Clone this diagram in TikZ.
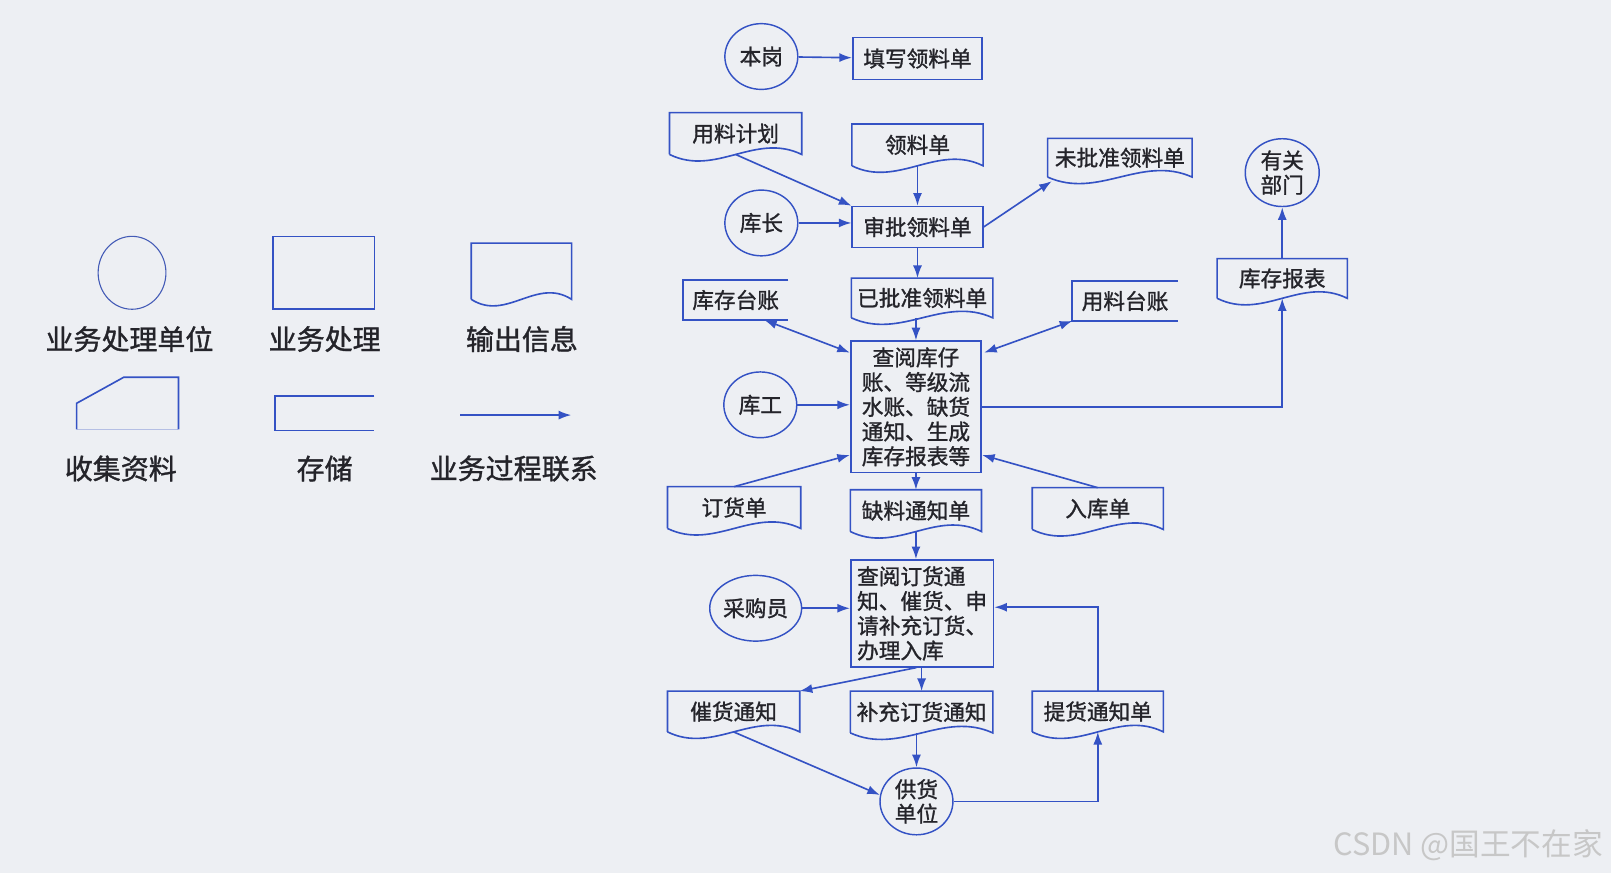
\documentclass[tikz,border=0pt]{standalone}
\usepackage{fontspec}
\setmainfont{Noto Sans CJK SC}[RawFeature={embolden=1.2}]
\newfontfamily\markfont{Noto Sans CJK SC}
\usetikzlibrary{shapes.geometric,arrows.meta,calc}

\definecolor{lnblue}{RGB}{52,82,196}
\definecolor{bgc}{RGB}{237,239,243}
\definecolor{txtc}{RGB}{36,36,42}

% document outline with a wavy bottom
\newcommand{\docshape}[1]{%
  \draw[ln] (#1.south west) -- (#1.north west) -- (#1.north east) -- (#1.south east)
    .. controls ($(#1.south west)!0.65!(#1.south east)+(0,-22)$) and ($(#1.south west)!0.35!(#1.south east)+(0,22)$) .. (#1.south west);}
% storage outline, open on the right
\newcommand{\storeshape}[1]{%
  \draw[ln] (#1.north east) -- (#1.north west) -- (#1.south west) -- (#1.south east);}

\begin{document}
\begin{tikzpicture}[x=0.02cm,y=-0.02cm,
    ln/.style={draw=lnblue,line width=0.9pt},
    arr/.style={draw=lnblue,line width=0.9pt,-{Latex[length=7pt,width=5pt]}},
    darr/.style={draw=lnblue,line width=0.9pt,{Latex[length=7pt,width=5pt]}-{Latex[length=7pt,width=5pt]}},
    unit/.style={ellipse,draw=lnblue,line width=0.8pt,inner sep=0pt,minimum width=1.42cm,minimum height=1.28cm,align=center,text=txtc,font=\fontsize{12}{13.5}\selectfont},
    proc/.style={rectangle,draw=lnblue,line width=0.9pt,inner sep=1pt,minimum width=2.54cm,minimum height=0.8cm,align=center,text=txtc,font=\fontsize{12}{13.7}\selectfont},
    doc/.style={rectangle,inner sep=1pt,minimum width=2.54cm,minimum height=0.8cm,text=txtc,font=\fontsize{12}{14}\selectfont},
    leg/.style={text=txtc,font=\fontsize{15.5}{18}\selectfont}]
\fill[bgc] (0,0) rectangle (1568,850);
\useasboundingbox (0,0) rectangle (1568,850);

% legend
\node[unit,minimum width=1.32cm,minimum height=1.42cm,line width=0.6pt,draw=lnblue!80!gray] (legUnit) at (128.5,265.5) {};
\node[leg] (legUnitTxt) at (126,330) {业务处理单位};
\node[proc,minimum width=1.98cm,minimum height=1.42cm] (legProc) at (315,265.5) {};
\node[leg] (legProcTxt) at (316,330) {业务处理};
\node[doc,minimum width=1.94cm,minimum height=1.08cm] (legOut) at (507.5,264) {};
\docshape{legOut}
\node[leg] (legOutTxt) at (508,330) {输出信息};
\draw[ln] (74.6,418) -- (74.6,392.5) -- (120.4,367.2) -- (173.7,367.2) -- (173.7,418);
\draw[ln,draw opacity=0.3] (74.6,418) -- (173.7,418);
\node[leg] (legColTxt) at (117.6,456) {收集资料};
\draw[ln] (364.4,385.3) -- (267.5,385.3) -- (267.5,419) -- (364.4,419);
\node[leg] (legStoreTxt) at (316,456) {存储};
\coordinate (legA) at (448,404);
\coordinate (legB) at (556,404);
\draw[arr] (legA) -- (legB);
\node[leg] (legArrTxt) at (500,456) {业务过程联系};

% units
\node[unit] (benGang) at (741,55) {本岗};
\node[unit] (kuZhang) at (741,217) {库长};
\node[unit] (kuGong) at (740,394) {库工};
\node[unit,minimum width=1.6cm] (caiGouYuan) at (735.5,592) {采购员};
\node[unit,minimum width=1.44cm,minimum height=1.32cm] (youGuan) at (1248,168) {有关\\部门};
\node[unit,minimum height=1.3cm] (gongHuo) at (892,780) {供货\\单位};

% processing
\node[proc,minimum width=2.52cm,minimum height=0.82cm] (tianXie) at (893,57) {填写领料单};
\node[proc] (shenPi) at (893,221) {审批领料单};
\node[proc,minimum height=2.56cm] (chaYue) at (891.5,396) {查阅库仔\\账、等级流\\水账、缺货\\通知、生成\\库存报表等};
\node[proc,align=left,minimum width=2.78cm,minimum height=2.08cm] (chaYueDingHuo) at (897.5,597) {查阅订货通\\知、催货、申\\请补充订货、\\办理入库};

% output documents
\node[doc,minimum width=2.56cm] (yongLiaoJiHua) at (716,130) {用料计划};
\node[doc] (lingLiaoDan) at (893,141) {领料单};
\node[doc,minimum width=2.8cm,minimum height=0.74cm] (weiPiZhun) at (1090,153.5) {未批准领料单};
\node[doc,minimum width=2.52cm,minimum height=0.76cm] (kuCunBaoBiao) at (1248,271) {库存报表};
\node[doc,minimum width=2.74cm,minimum height=0.76cm] (yiPiZhun) at (897.5,290) {已批准领料单};
\node[doc,minimum width=2.58cm] (dingHuoDan) at (714.5,494) {订货单};
\node[doc] (queLiao) at (891.5,497) {缺料通知单};
\node[doc] (ruKuDan) at (1068.5,495) {入库单};
\node[doc,minimum width=2.56cm,minimum height=0.78cm] (cuiHuo) at (714,692.5) {催货通知};
\node[doc,minimum width=2.76cm] (buChong) at (897,693) {补充订货通知};
\node[doc,minimum height=0.78cm] (tiHuo) at (1068.5,692.5) {提货通知单};
\foreach \d in {yongLiaoJiHua,lingLiaoDan,weiPiZhun,kuCunBaoBiao,yiPiZhun,dingHuoDan,queLiao,ruKuDan,cuiHuo,buChong,tiHuo}
  {\docshape{\d}}

% storage
\node[doc,minimum width=2.04cm,minimum height=0.76cm] (kuCunTaiZhang) at (716,292) {库存台账};
\node[doc,minimum width=2.04cm,minimum height=0.76cm] (yongLiaoTaiZhang) at (1095,293) {用料台账};
\storeshape{kuCunTaiZhang}
\storeshape{yongLiaoTaiZhang}

% connections
\draw[arr] (benGang) -- (tianXie);
\draw[arr] (yongLiaoJiHua.south) -- (shenPi.north west);
\draw[arr] (lingLiaoDan.south) -- (shenPi.north);
\draw[arr] (kuZhang) -- (kuZhang -| shenPi.west);
\draw[arr] (shenPi.east) -- ($(weiPiZhun.south west)+(4,4)$);
\draw[arr] (shenPi.south) -- (shenPi.south |- yiPiZhun.north);
\draw[arr] (yiPiZhun.south -| chaYue.north) -- (chaYue.north);
\draw[darr] ($(kuCunTaiZhang.south west)!0.77!(kuCunTaiZhang.south east)$) -- ($(chaYue.north west)+(0,12)$);
\draw[darr] (yongLiaoTaiZhang.south west) -- ($(chaYue.north east)+(2,12)$);
\draw[arr] (kuGong) -- (kuGong -| chaYue.west);
\draw[arr] (chaYue.east) -| (kuCunBaoBiao.south);
\draw[arr] (kuCunBaoBiao) -- (youGuan);
\draw[arr] (dingHuoDan.north) -- ($(chaYue.south west)+(0,-18)$);
\draw[arr] (ruKuDan.north) -- ($(chaYue.south east)+(0,-18)$);
\draw[arr] (chaYue.south) -- (queLiao.north);
\draw[arr] (queLiao.south) -- (queLiao.south |- chaYueDingHuo.north);
\draw[arr] (caiGouYuan) -- (caiGouYuan -| chaYueDingHuo.west);
\draw[arr] ($(chaYueDingHuo.south west)!0.46!(chaYueDingHuo.south east)$) -- (cuiHuo.north east);
\draw[arr] (buChong.north |- chaYueDingHuo.south) -- (buChong.north);
\draw[arr] (buChong.south -| gongHuo.north) -- (gongHuo.north);
\draw[arr] (cuiHuo.south) -- (gongHuo.170);
\draw[arr] (gongHuo.east) -| (tiHuo.south);
\draw[arr] (tiHuo.north) |- ($(chaYueDingHuo.east)+(0,-6)$);

% watermark
\node[text=black!22,font=\markfont\fontsize{17}{20}\selectfont] (mark) at (1429,823) {CSDN @国王不在家};
\end{tikzpicture}
\end{document}
